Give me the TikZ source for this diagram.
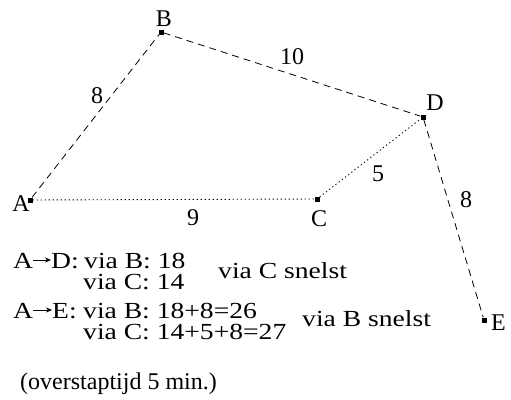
\documentclass[tikz,border=0pt]{standalone}
\usepackage{fontspec}
\setmainfont{Liberation Serif}
\newfontfamily\breed[FakeStretch=1.2]{Liberation Serif}
\usetikzlibrary{arrows.meta}
\tikzset{
punt/.style={fill,inner sep=0pt,minimum size=5pt},
streep/.style={dash pattern=on 7pt off 5pt,line width=0.8pt},
stip/.style={dash pattern=on 1.2pt off 2.8pt,line width=0.9pt},
tekst/.style={inner sep=0pt,anchor=base west,font=\fontsize{23}{24}\breed},
pijl/.style={line width=0.6pt,-{Stealth[length=6pt,width=5pt]}}
}
\begin{document}
\begin{tikzpicture}[x=1pt,y=-1pt,font=\fontsize{24}{24}\selectfont]
\useasboundingbox (0,0) rectangle (511,399);
% punten
\node[punt](A) at (30,200){};
\node[punt](B) at (161,32){};
\node[punt](C) at (317,199){};
\node[punt](D) at (423,117){};
\node[punt](E) at (484,320){};
\node[anchor=base,inner sep=0pt] at (21,211){A};
\node[anchor=base,inner sep=0pt] at (164,26){B};
\node[anchor=base,inner sep=0pt] at (319,226){C};
\node[anchor=base,inner sep=0pt] at (435,110){D};
\node[anchor=base west,inner sep=0pt] at (491,330){E};
% verbindingen
\draw[streep](A)--(B);
\draw[streep](B)--(D);
\draw[streep](D)--(E);
\draw[stip](A)--(C);
\draw[stip](C)--(D);
% afstanden
\node at (97,96){8};
\node at (292,57){10};
\node at (378,174){5};
\node at (193,218){9};
\node at (466,200){8};
% routes
\node[tekst](a1) at (13,268){A};
\node[tekst](d1) at (51,268){D:};
\draw[pijl]([yshift=8pt]a1.base east)--([yshift=8pt]d1.base west);
\node[tekst](r1) at (84,268){via B: 18};
\node[tekst](r2) at (83,289){via C: 14};
\node[tekst](r3) at (218,278){via C snelst};
\node[tekst](a2) at (13,318){A};
\node[tekst](e2) at (52,318){E:};
\draw[pijl]([yshift=8pt]a2.base east)--([yshift=8pt]e2.base west);
\node[tekst](r4) at (83,318){via B: 18+8=26};
\node[tekst](r5) at (83,339){via C: 14+5+8=27};
\node[tekst](r6) at (302,326){via B snelst};
\node[anchor=base west,inner sep=0pt](r7) at (20,389){(overstaptijd 5 min.)};
\end{tikzpicture}
\end{document}
